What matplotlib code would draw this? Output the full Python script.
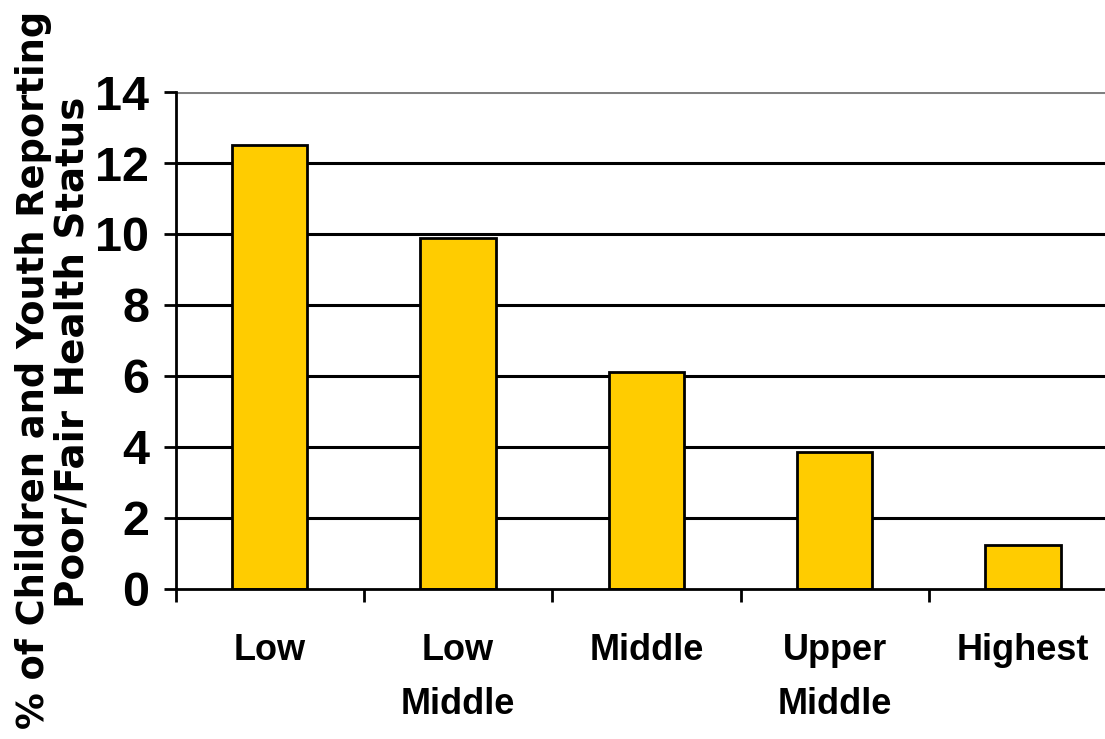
import numpy as np
import matplotlib
matplotlib.use("Agg")
import matplotlib.pyplot as plt

# данные
categories = ["Low", "Low\nMiddle", "Middle", "Upper\nMiddle", "Highest"]
values = [12.5, 9.9, 6.1, 3.85, 1.25]
y_ticks = [0, 2, 4, 6, 8, 10, 12, 14]

narrow = ["Liberation Sans Narrow", "Liberation Sans", "DejaVu Sans"]

fig = plt.figure(figsize=(11.05, 7.39), dpi=100)
ax = fig.add_axes([0.159, 0.203, 0.852, 0.6725])

x = np.arange(len(categories))
ax.bar(x, values, width=0.4, color="#FFCC00", edgecolor="black", linewidth=2, zorder=3)

ax.set_xlim(-0.5, len(categories) - 0.5)
ax.set_ylim(0, 14)

# сетка
for t in y_ticks[1:]:
    ax.axhline(t, color="#808080" if t == 14 else "black", linewidth=2.2, zorder=1)

ax.set_yticks(y_ticks)
ax.set_yticklabels([str(t) for t in y_ticks], family=narrow, fontweight="bold", fontsize=35)
ax.set_xticks(x)
ax.set_xticklabels(categories, family=narrow, fontweight="bold", fontsize=26, linespacing=1.7)
ax.set_xticks(np.arange(len(categories) + 1) - 0.5, minor=True)

ax.tick_params(axis="y", length=9, width=2, pad=10)
ax.tick_params(axis="x", which="major", length=0, pad=32)
ax.tick_params(axis="x", which="minor", length=9, width=2)

for s in ["top", "right"]:
    ax.spines[s].set_visible(False)
ax.spines["left"].set_linewidth(2)
ax.spines["bottom"].set_linewidth(2)
ax.spines["left"].set_zorder(4)
ax.spines["bottom"].set_zorder(4)

# подпись оси
fig.text(0.030, 0.500, "% of Children and Youth Reporting", rotation=90,
         ha="center", va="center", fontsize=26.5, fontweight="bold", family="DejaVu Sans")
fig.text(0.066, 0.523, "Poor/Fair Health Status", rotation=90,
         ha="center", va="center", fontsize=28, fontweight="bold", family="DejaVu Sans")

fig.savefig("out.png", dpi=100)
